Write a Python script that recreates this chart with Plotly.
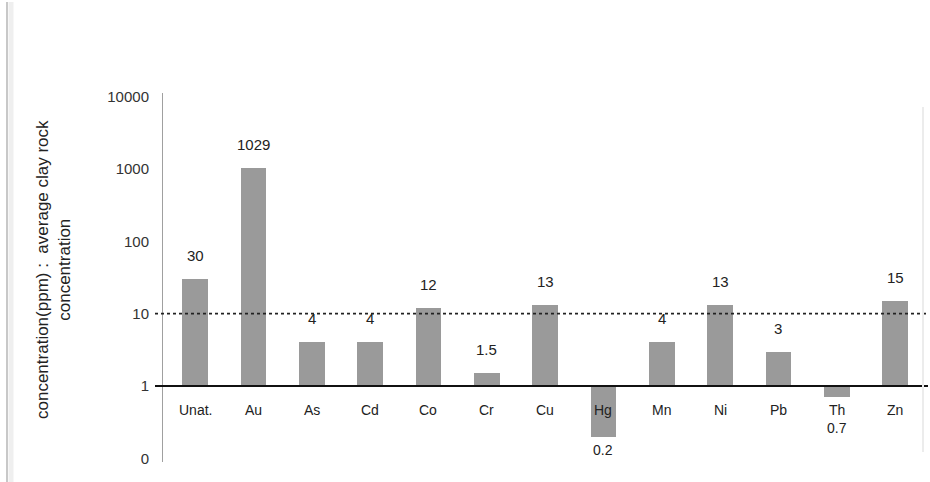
import math
import plotly.graph_objects as go

# Element enrichment relative to average clay rock
elements = ["Unat.", "Au", "As", "Cd", "Co", "Cr", "Cu", "Hg", "Mn", "Ni", "Pb", "Th", "Zn"]
ratios = [30, 1029, 4, 4, 12, 1.5, 13, 0.2, 4, 13, 3, 0.7, 15]
value_labels = ["30", "1029", "4", "4", "12", "1.5", "13", "0.2", "4", "13", "3", "0.7", "15"]
tick_values = [0.1, 1, 10, 100, 1000, 10000]
tick_labels = ["0", "1", "10", "100", "1000", "10000"]

BAR_GREY = "#9a9a9a"
TEXT = "#222222"
FONT = "Liberation Sans, Arial, sans-serif"

# Bars rise (or drop) from the baseline ratio of 1 on the log scale
base = [1.0] * len(ratios)
heights = [r - 1.0 for r in ratios]

fig = go.Figure()
fig.add_trace(go.Bar(
    x=elements,
    y=heights,
    base=base,
    width=0.44,
    marker=dict(color=BAR_GREY, line=dict(width=0)),
    hoverinfo="skip",
    showlegend=False,
))

annotations = []
for name, r, lab in zip(elements, ratios, value_labels):
    if r >= 1:
        annotations.append(dict(x=name, y=math.log10(r), yref="y", xref="x",
                                text=lab, showarrow=False, yanchor="bottom",
                                yshift=13, font=dict(size=15, color=TEXT, family=FONT)))
    else:
        annotations.append(dict(x=name, y=math.log10(r), yref="y", xref="x",
                                text=lab, showarrow=False, yanchor="top",
                                yshift=-3 if r < 0.5 else -21,
                                font=dict(size=14, color=TEXT, family=FONT)))
    # element name just under the baseline
    annotations.append(dict(x=name, y=0, yref="y", xref="x", text=name,
                            showarrow=False, yanchor="top", yshift=-14,
                            font=dict(size=14, color=TEXT, family=FONT)))

fig.update_layout(
    width=930, height=482,
    margin=dict(l=163, r=2, t=93, b=20),
    paper_bgcolor="white", plot_bgcolor="white",
    font=dict(family=FONT, size=12, color=TEXT),
    bargap=0,
    xaxis=dict(
        range=[-0.549, 12.565],
        showticklabels=False, showgrid=False, zeroline=False,
        showline=False, ticks="",
    ),
    yaxis=dict(
        type="log",
        range=[-1.05, 4.05],
        tickvals=tick_values, ticktext=tick_labels,
        showgrid=False, zeroline=False,
        showline=True, linecolor="#a0a0a0", linewidth=1,
        ticks="", ticklabelstandoff=10,
        tickfont=dict(size=15, color="#333333", family=FONT),
    ),
)

# paper-x conversion for pixel positions outside the plot area
plot_w = 930 - 163 - 2
def px_x(p):
    return (p - 163) / plot_w

plot_h = 482 - 93 - 20
def px_y(p):
    return (482 - 20 - p) / plot_h

shapes = [
    # threshold of 10x enrichment
    dict(type="line", xref="paper", yref="y", x0=px_x(155), x1=px_x(928), y0=10, y1=10,
         line=dict(color="#222222", width=1.8, dash="dot")),
    # baseline ratio of 1
    dict(type="line", xref="paper", yref="y", x0=px_x(155), x1=px_x(928), y0=1, y1=1,
         line=dict(color="#111111", width=2)),
    # page frame lines
    dict(type="line", xref="paper", yref="paper", x0=px_x(7), x1=px_x(7), y0=px_y(2), y1=px_y(482),
         line=dict(color="#c8c8c8", width=2)),
    dict(type="line", xref="paper", yref="paper", x0=px_x(11), x1=px_x(11), y0=px_y(2), y1=px_y(482),
         line=dict(color="#efefef", width=5)),
    dict(type="line", xref="paper", yref="paper", x0=px_x(923), x1=px_x(923), y0=px_y(107), y1=px_y(452),
         line=dict(color="#ececec", width=2)),
]

annotations.append(dict(
    x=px_x(53), y=px_y(270), xref="paper", yref="paper",
    xanchor="center", yanchor="middle",
    text="concentration(ppm)&nbsp;:&nbsp;&nbsp;average clay rock<br>concentration",
    textangle=-90, showarrow=False, align="center",
    font=dict(size=17, color=TEXT, family=FONT),
))

fig.update_layout(shapes=shapes, annotations=annotations)

fig.write_html("out.html")
